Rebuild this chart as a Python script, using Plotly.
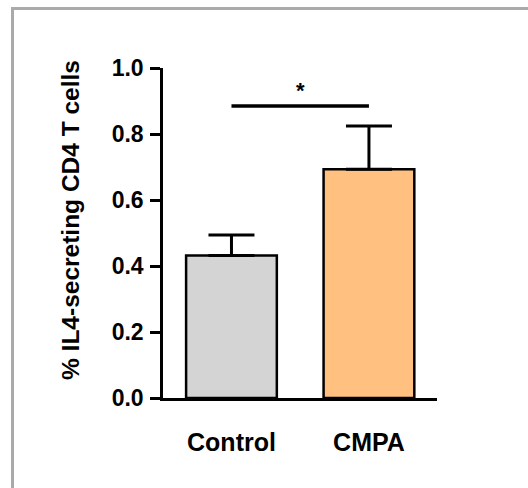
import plotly.graph_objects as go

categories = ["Control", "CMPA"]
means = [0.432, 0.693]
sems = [0.062, 0.131]
bar_colors = ["#d4d4d4", "#ffc080"]
y_ticks = [0.0, 0.2, 0.4, 0.6, 0.8, 1.0]
y_tick_labels = ["0.0", "0.2", "0.4", "0.6", "0.8", "1.0"]
sig_y = 0.885
sig_label = "*"
y_title = "% IL4-secreting CD4 T cells"

W, H = 528, 488
L, T = 163, 68
pw, ph = 274, 330
R, B = W - L - pw, H - T - ph

FONT = "Liberation Sans, Arial, sans-serif"

fig = go.Figure()
fig.add_trace(go.Bar(
    x=[0, 1], y=means, width=0.66,
    marker=dict(color=bar_colors, line=dict(color="black", width=2.5)),
    error_y=dict(type="data", symmetric=False, array=sems, arrayminus=[0, 0],
                 color="black", thickness=3, width=23),
    showlegend=False,
))

# significance line
fig.add_shape(type="line", xref="x", yref="y", x0=0, x1=1, y0=sig_y, y1=sig_y,
              line=dict(color="black", width=3.5))
fig.add_annotation(x=0.5, y=sig_y, xref="x", yref="y", text=sig_label, showarrow=False,
                   yanchor="bottom", yshift=1, font=dict(family=FONT, size=22, color="black", weight="bold"))

# y title (x=70, y=220)
fig.add_annotation(x=(70 - L) / pw, y=(398 - 220) / ph, xref="paper", yref="paper",
                   text=y_title, textangle=-90, showarrow=False,
                   xanchor="center", yanchor="middle",
                   font=dict(family=FONT, size=24.5, color="black", weight="bold"))

# outer frame: only top and left edges are inside the picture
fx0, fy0 = (11 - L) / pw, (398 - 8.5) / ph
fig.add_shape(type="line", xref="paper", yref="paper",
              x0=fx0, x1=(W - L) / pw, y0=fy0, y1=fy0,
              line=dict(color="#aaaaaa", width=3), layer="below")
fx1 = (12.5 - L) / pw
fig.add_shape(type="line", xref="paper", yref="paper",
              x0=fx1, x1=fx1, y0=(398 - 7) / ph, y1=(398 - H) / ph,
              line=dict(color="#aaaaaa", width=3), layer="below")

fig.update_layout(
    width=W, height=H, autosize=False,
    margin=dict(l=L, r=R, t=T, b=B, pad=0),
    plot_bgcolor="white", paper_bgcolor="white",
    font=dict(family=FONT, color="black"),
    xaxis=dict(range=[-0.498, 1.495], tickvals=[0, 1], ticktext=categories,
               showline=True, linecolor="black", linewidth=2.5, ticks="", showgrid=False,
               zeroline=False, ticklabelstandoff=20,
               tickfont=dict(family=FONT, size=25, color="black", weight="bold")),
    yaxis=dict(range=[0, 1.0], tickvals=y_ticks, ticktext=y_tick_labels,
               showline=True, linecolor="black", linewidth=2.5, ticks="outside",
               ticklen=10, tickwidth=2.5, tickcolor="black", showgrid=False, zeroline=False,
               ticklabelstandoff=2,
               tickfont=dict(family=FONT, size=23, color="black", weight="bold")),
)

fig.write_html("out.html", config={"displayModeBar": False},
               post_script="document.body.style.margin='0';document.body.style.overflow='hidden';")
